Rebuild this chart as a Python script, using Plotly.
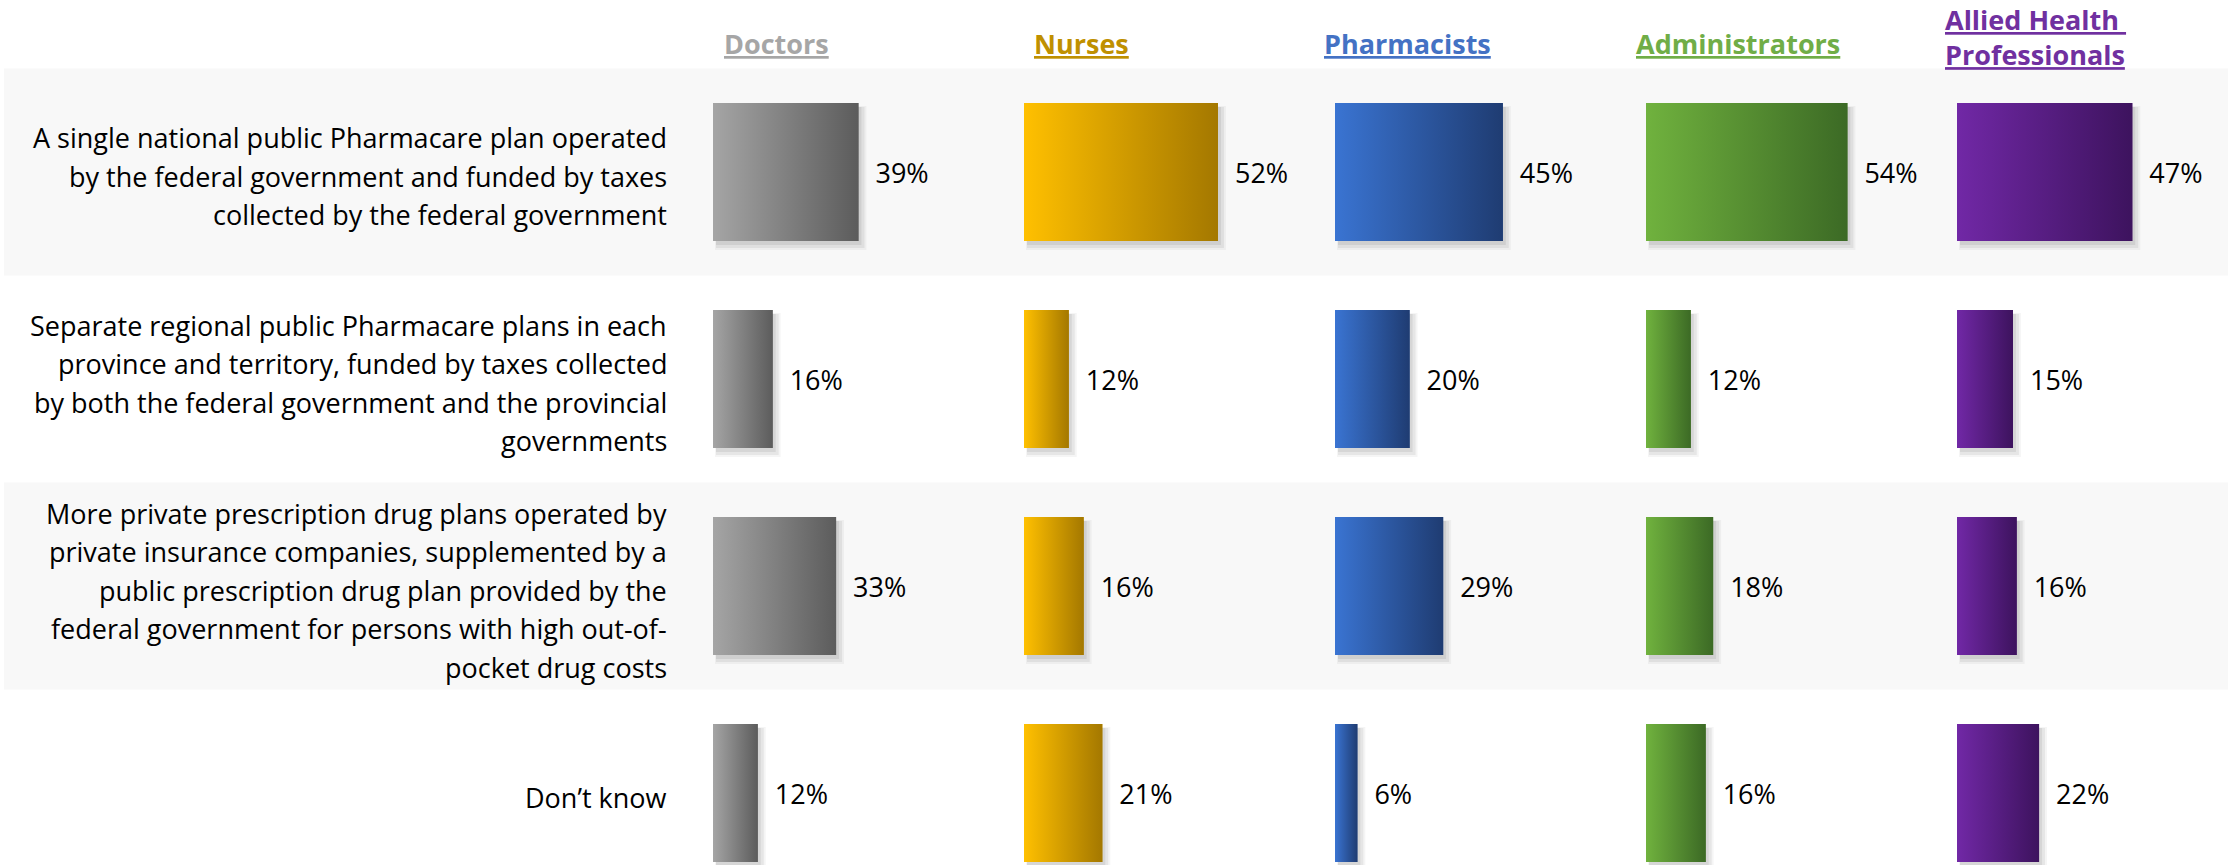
import plotly.graph_objects as go

# ---------------- data ----------------
categories = [
    "A single national public Pharmacare plan operated<br>by the federal government and funded by taxes<br>collected by the federal government",
    "Separate regional public Pharmacare plans in each<br>province and territory, funded by taxes collected<br>by both the federal government and the provincial<br>governments",
    "More private prescription drug plans operated by<br>private insurance companies, supplemented by a<br>public prescription drug plan provided by the<br>federal government for persons with high out-of-<br>pocket drug costs",
    "Don’t know",
]
groups = ["Doctors", "Nurses", "Pharmacists", "Administrators", "Allied Health <br>Professionals"]
doctors = [39, 16, 33, 12]
nurses = [52, 12, 16, 21]
pharmacists = [45, 20, 29, 6]
administrators = [54, 12, 18, 16]
allied = [47, 15, 16, 22]
series = [doctors, nurses, pharmacists, administrators, allied]

# ---------------- styles ----------------
header_colors = ["#a6a6a6", "#bf9000", "#4472c4", "#70ad47", "#7030a0"]
grad_left = ["#a5a5a5", "#ffc000", "#3a74d2", "#70b23e", "#7128a6"]
grad_right = ["#5c5c5c", "#a47800", "#1f3c72", "#3c6a25", "#3d135e"]
mid_colors = ["#808080", "#d09e00", "#2d58a2", "#568e32", "#571e82"]

W, H = 2228, 865
FONT = "Open Sans, sans-serif"
FS = 27
PX_PER_UNIT = 3.73
PANEL_PX = 270
PANEL_START = 713
PANEL_STEP = 311
RMAX = PANEL_PX / PX_PER_UNIT
ROW_PX = 207
ROW0_CENTER = 172
BAR_W = 0.667
LINE_PX = 38.5
LABEL_RIGHT = 669
TEXT_DROP = 4  # px, visual centring of text
y_top = -ROW0_CENTER / ROW_PX
y_bot = y_top + H / ROW_PX

fig = go.Figure()
rows = list(range(len(categories)))
half = BAR_W / 2
ux = 1 / PX_PER_UNIT   # data units per pixel (x)
uy = 1 / ROW_PX        # data units per pixel (y)

for i, (vals, name) in enumerate(zip(series, groups)):
    xa = "x" if i == 0 else f"x{i+1}"
    # soft drop shadows
    for dx, dy, grow, alpha in [(3, 4, 0, 0.07), (3, 4, 3, 0.06), (2, 3, 6, 0.04)]:
        for k, v in zip(rows, vals):
            x0 = dx * ux
            x1 = v + (dx + grow) * ux
            y0 = k - half + dy * uy
            y1 = k + half + (dy + grow) * uy
            fig.add_trace(go.Scatter(
                x=[x0, x1, x1, x0, x0], y=[y0, y0, y1, y1, y0],
                mode="lines", line=dict(width=0), fill="toself",
                fillcolor=f"rgba(0,0,0,{alpha})", hoverinfo="skip",
                showlegend=False, xaxis=xa, yaxis="y"))
    # bars
    fig.add_trace(go.Bar(
        x=vals, y=rows, orientation="h", width=BAR_W,
        marker=dict(color=mid_colors[i], line=dict(width=0)),
        name=name, showlegend=False, xaxis=xa, yaxis="y"))
    # gradient overlay
    for k, v in zip(rows, vals):
        fig.add_trace(go.Scatter(
            x=[0, v, v, 0, 0], y=[k - half, k - half, k + half, k + half, k - half],
            mode="lines", line=dict(width=0), fill="toself",
            fillgradient=dict(type="horizontal",
                              colorscale=[[0, grad_left[i]], [1, grad_right[i]]]),
            hoverinfo="skip", showlegend=False, xaxis=xa, yaxis="y"))
    # value labels
    fig.add_trace(go.Scatter(
        x=[v + 17 * ux for v in vals], y=[k + TEXT_DROP * uy for k in rows],
        mode="text",
        text=[f"{v}%" for v in vals], textposition="middle right",
        textfont=dict(family=FONT, size=FS, color="#000000"),
        cliponaxis=False, hoverinfo="skip", showlegend=False,
        xaxis=xa, yaxis="y"))

layout = dict(
    width=W, height=H,
    margin=dict(l=0, r=0, t=0, b=0),
    paper_bgcolor="white", plot_bgcolor="rgba(0,0,0,0)",
    font=dict(family=FONT, size=FS, color="#000000"),
    barmode="overlay",
    showlegend=False,
    yaxis=dict(range=[y_bot, y_top], domain=[0, 1], anchor="x",
               tickvals=rows, showticklabels=False, ticks="",
               showgrid=False, zeroline=False, showline=False,
               automargin=False),
)
for i in range(len(groups)):
    key = "xaxis" if i == 0 else f"xaxis{i+1}"
    start = (PANEL_START + PANEL_STEP * i) / W
    end = min((PANEL_START + PANEL_STEP * i + PANEL_PX) / W, 1.0)
    layout[key] = dict(domain=[start, end], range=[0, RMAX], visible=False,
                       anchor="y", fixedrange=True)
fig.update_layout(**layout)

# alternating row bands
for k in rows:
    if k % 2 == 0:
        fig.add_shape(type="rect", xref="paper", yref="y",
                      x0=4 / W, x1=1, y0=k - 0.5, y1=k + 0.5,
                      fillcolor="#f8f8f8", line=dict(width=0), layer="below")

# category labels, one line at a time (right aligned)
for k, cat in zip(rows, categories):
    lines = cat.split("<br>")
    n = len(lines)
    for j, ln in enumerate(lines):
        fig.add_annotation(x=LABEL_RIGHT / W, xref="paper",
                           y=k + ((j - (n - 1) / 2) * LINE_PX + TEXT_DROP) * uy,
                           yref="y",
                           text=ln, showarrow=False, xanchor="right",
                           yanchor="middle",
                           font=dict(family=FONT, size=FS, color="#000000"))

# group headers
header_x = [776, 1081, 1407, 1738, 1943]
for i, name in enumerate(groups):
    if "<br>" in name:
        parts = name.split("<br>")
        txt = "<br>".join(f"<b><u>{p}</u></b>" for p in parts)
        fig.add_annotation(x=header_x[i] / W, y=1 - 37 / H,
                           xref="paper", yref="paper",
                           text=txt, showarrow=False, align="left",
                           xanchor="left", yanchor="middle",
                           font=dict(family=FONT, size=FS, color=header_colors[i]))
    else:
        fig.add_annotation(x=header_x[i] / W, y=1 - 43 / H, xref="paper", yref="paper",
                           text=f"<b><u>{name}</u></b>", showarrow=False,
                           xanchor="center", yanchor="middle",
                           font=dict(family=FONT, size=FS, color=header_colors[i]))

fig.write_html("out.html", config={"displayModeBar": False},
               post_script="document.body.style.margin='0';")
